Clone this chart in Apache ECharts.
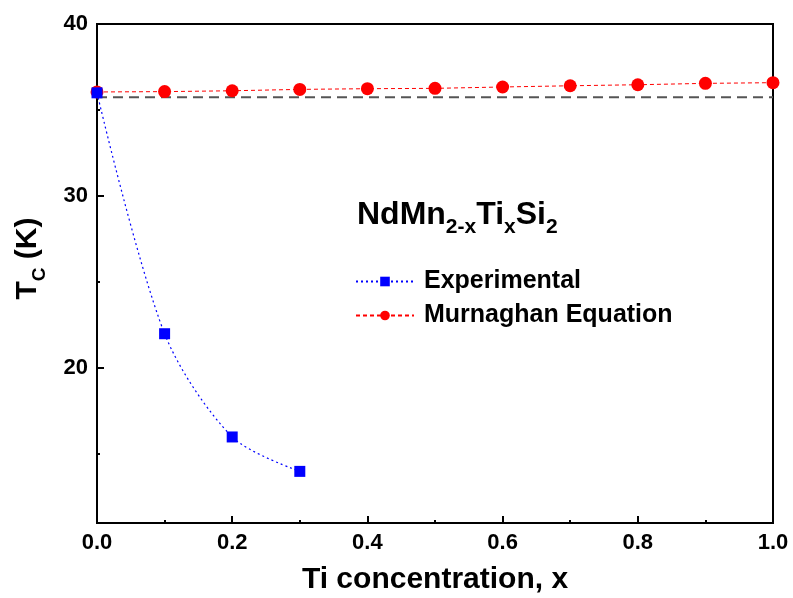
<!DOCTYPE html>
<html>
<head>
<meta charset="utf-8">
<script src="https://cdn.jsdelivr.net/npm/echarts@6.0.0/dist/echarts.min.js"></script>
<style>
    html, body { margin: 0; padding: 0; background: #fff; }
    #chart { width: 793px; height: 598px; }
</style>
</head>
<body>
<div id="chart"></div>
<script>
// data
var xExp = [0, 0.1, 0.2, 0.3];
var tcExp = [36.0, 22.0, 16.0, 14.0];
var xMur = [0, 0.1, 0.2, 0.3, 0.4, 0.5, 0.6, 0.7, 0.8, 0.9, 1.0];
var tcMur = [36.05, 36.07, 36.12, 36.2, 36.24, 36.26, 36.34, 36.41, 36.47, 36.55, 36.59];
var xRef = [0, 1];
var tcRef = [35.75, 35.75];
var yLabels = [20, 30, 40];
var yMinor = [15, 25, 35];

var font = "'Liberation Sans', Arial, sans-serif";

var pairs = function(xs, ys) {
    var list = [];
    for (var i = 0; i < xs.length; i++) {
        list.push([xs[i], ys[i]]);
    }
    return list;
};

var myChart = echarts.init(document.getElementById('chart'));

// subscripts: slightly taller line box + bottom align pushes the small text down
var option = {
    animation: false,
    backgroundColor: '#fff',
    title: {
        text: '{m|NdMn}{s|2-x}{m|Ti}{s|x}{m|Si}{s|2}',
        left: 352,
        top: 194,
        textStyle: {
            rich: {
                m: { fontFamily: font, fontWeight: 'bold', fontSize: 32, lineHeight: 32, verticalAlign: 'top', color: '#000' },
                s: { fontFamily: font, fontWeight: 'bold', fontSize: 21, lineHeight: 39, verticalAlign: 'bottom', color: '#000' }
            }
        }
    },
    legend: {
        orient: 'vertical',
        left: 350,
        top: 264,
        itemWidth: 58,
        itemHeight: 12,
        itemGap: 9,
        textStyle: {
            fontFamily: font,
            fontWeight: 'bold',
            fontSize: 25,
            lineHeight: 25,
            color: '#000',
            padding: [0, 0, 0, 5]
        },
        data: ['Experimental', 'Murnaghan Equation']
    },
    grid: {
        left: 97,
        right: 20,
        top: 24,
        bottom: 75,
        outerBoundsMode: 'none',
        show: true,
        borderColor: '#000',
        borderWidth: 2
    },
    xAxis: {
        type: 'value',
        min: 0,
        max: 1,
        interval: 0.2,
        name: 'Ti concentration, x',
        nameLocation: 'middle',
        nameGap: 42,
        nameTextStyle: { fontFamily: font, fontWeight: 'bold', fontSize: 30, color: '#000' },
        axisLine: { lineStyle: { color: '#000', width: 2 } },
        axisTick: { inside: true, length: 7, lineStyle: { color: '#000', width: 2 } },
        minorTick: { show: true, splitNumber: 2, length: 3, lineStyle: { color: '#000', width: 2 } },
        splitLine: { show: false },
        axisLabel: {
            margin: 9,
            fontFamily: font,
            fontWeight: 'bold',
            fontSize: 22,
            color: '#000',
            formatter: function(v) { return v.toFixed(1); }
        }
    },
    yAxis: [{
        type: 'value',
        min: 11,
        max: 40,
        name: '{t|T}{s|C}{t| (K)}',
        nameLocation: 'middle',
        nameGap: 48,
        nameTextStyle: {
            padding: [0, 0, 0, 30],
            rich: {
                t: { fontFamily: font, fontWeight: 'bold', fontSize: 30, lineHeight: 30, verticalAlign: 'top', color: '#000' },
                s: { fontFamily: font, fontWeight: 'bold', fontSize: 19, lineHeight: 36, verticalAlign: 'bottom', color: '#000' }
            }
        },
        axisLine: { lineStyle: { color: '#000', width: 2 } },
        axisTick: { inside: true, length: 7, customValues: yLabels, lineStyle: { color: '#000', width: 2 } },
        splitLine: { show: false },
        axisLabel: {
            customValues: yLabels,
            margin: 9,
            fontFamily: font,
            fontWeight: 'bold',
            fontSize: 22,
            color: '#000'
        }
    }, {
        // minor ticks only
        type: 'value',
        min: 11,
        max: 40,
        position: 'left',
        axisLine: { show: false },
        axisTick: { show: true, inside: true, length: 3, customValues: yMinor, lineStyle: { color: '#000', width: 2 } },
        axisLabel: { show: false },
        splitLine: { show: false }
    }],
    series: [{
        name: 'Reference',
        type: 'line',
        data: pairs(xRef, tcRef),
        symbol: 'none',
        lineStyle: { color: '#555', width: 2, type: [10, 6] },
        z: 1
    }, {
        name: 'Murnaghan Equation',
        type: 'line',
        data: pairs(xMur, tcMur),
        symbol: 'circle',
        symbolSize: 13,
        itemStyle: { color: '#ff0000' },
        lineStyle: { color: '#ff0000', width: 1, type: [4, 3] },
        z: 3
    }, {
        name: 'Experimental',
        type: 'line',
        data: pairs(xExp, tcExp),
        smooth: 0.3,
        symbol: 'rect',
        symbolSize: 11,
        itemStyle: { color: '#0000ff' },
        lineStyle: { color: '#0000ff', width: 1.2, type: [2, 3] },
        z: 4
    }]
};

myChart.setOption(option);
</script>
</body>
</html>
